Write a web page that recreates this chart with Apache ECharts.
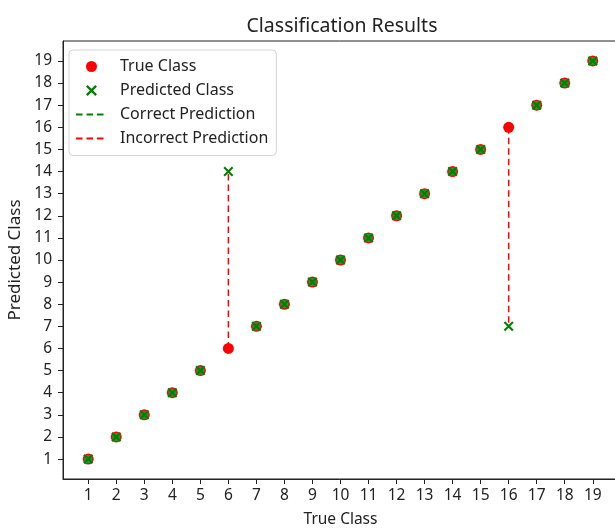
<!DOCTYPE html>
<html>
<head>
<meta charset="utf-8">
<script src="https://cdn.jsdelivr.net/npm/echarts@6/dist/echarts.min.js"></script>
<style>
html, body { margin: 0; padding: 0; background: #fff; }
#chart { width: 615px; height: 528px; }
</style>
</head>
<body>
<div id="chart"></div>
<script>
let chart = echarts.init(document.getElementById("chart"));

const classes = [1, 2, 3, 4, 5, 6, 7, 8, 9, 10, 11, 12, 13, 14, 15, 16, 17, 18, 19];
const trueClass = [1, 2, 3, 4, 5, 6, 7, 8, 9, 10, 11, 12, 13, 14, 15, 16, 17, 18, 19];
const predictedClass = [1, 2, 3, 4, 5, 14, 7, 8, 9, 10, 11, 12, 13, 14, 15, 7, 17, 18, 19];
const tickValues = [1, 2, 3, 4, 5, 6, 7, 8, 9, 10, 11, 12, 13, 14, 15, 16, 17, 18, 19];

const FONT = "Noto Sans";
const X_PATH = "path://M0,1.5L1.5,0L5,3.5L8.5,0L10,1.5L6.5,5L10,8.5L8.5,10L5,6.5L1.5,10L0,8.5L3.5,5Z";
const DASH = [6.5, 4];

let truePts = [];
let predPts = [];
let correctPts = [];
let series = [];

classes.forEach((c, i) => {
    truePts.push([c, trueClass[i]]);
    predPts.push([c, predictedClass[i]]);
    if (trueClass[i] === predictedClass[i]) {
        correctPts.push([c, trueClass[i]]);
    } else {
        // red dashed line from true to predicted
        series.push({
            name: "Incorrect Prediction",
            type: "line",
            data: [[c, trueClass[i]], [c, predictedClass[i]]],
            symbol: "none",
            lineStyle: { color: "#ff0000", width: 1.5, type: DASH },
            itemStyle: { color: "transparent", borderWidth: 0 },
            z: 1,
        });
    }
});

series.push({
    name: "Correct Prediction",
    type: "line",
    data: [],
    symbol: "none",
    lineStyle: { color: "#008000", width: 1.5, type: DASH },
    itemStyle: { color: "transparent", borderWidth: 0 },
});

series.push({
    name: "True Class",
    type: "scatter",
    data: truePts,
    symbol: "circle",
    symbolSize: 11,
    itemStyle: { color: "#ff0000", opacity: 1 },
    z: 2,
});

// zero length green lines show as a green block under the x
series.push({
    name: "correct-mark",
    type: "scatter",
    data: correctPts,
    symbol: "rect",
    symbolSize: 8,
    itemStyle: { color: "#2f8f2f", opacity: 1 },
    z: 3,
});

series.push({
    name: "Predicted Class",
    type: "scatter",
    data: predPts,
    symbol: X_PATH,
    symbolKeepAspect: true,
    symbolSize: 10,
    itemStyle: { color: "#008000", opacity: 1 },
    z: 4,
});

let axisCommon = {
    type: "value",
    min: 0.1,
    max: 19.9,
    splitLine: { show: false },
    axisLine: { show: true, lineStyle: { color: "#222", width: 1 } },
    axisTick: {
        show: true,
        customValues: tickValues,
        length: 5,
        lineStyle: { color: "#222", width: 1 },
    },
    nameLocation: "middle",
};

let options = {
    backgroundColor: "#fff",
    animation: false,
    title: {
        text: "Classification Results",
        left: 337,
        top: 11,
        textAlign: "center",
        textStyle: { color: "#222", fontSize: 19.5, fontWeight: "normal", fontFamily: FONT },
    },
    legend: {
        data: ["True Class", "Predicted Class", "Correct Prediction", "Incorrect Prediction"],
        orient: "vertical",
        left: 69,
        top: 50,
        padding: [8.5, 8, 9, 6],
        itemGap: 8,
        itemWidth: 31,
        itemHeight: 11,
        borderColor: "#d4d4d4",
        borderWidth: 1,
        borderRadius: 4,
        backgroundColor: "rgba(255,255,255,0.85)",
        textStyle: { color: "#222", fontSize: 16, fontFamily: FONT, padding: [0, 0, 0, 8] },
    },
    grid: {
        left: 63,
        top: 41,
        width: 555,
        height: 438,
        outerBoundsMode: "none",
        show: true,
        borderColor: "#222",
        borderWidth: 1,
        backgroundColor: "transparent",
    },
    xAxis: Object.assign({}, axisCommon, {
        name: "True Class",
        nameGap: 33,
        nameTextStyle: { color: "#222", fontSize: 15.5, fontFamily: FONT },
        axisLabel: {
            customValues: tickValues,
            color: "#222",
            fontSize: 15.5,
            fontFamily: FONT,
            margin: 9,
        },
    }),
    yAxis: Object.assign({}, axisCommon, {
        name: "Predicted Class",
        nameGap: 37,
        nameTextStyle: { color: "#222", fontSize: 17, fontFamily: FONT },
        axisLabel: {
            customValues: tickValues,
            color: "#222",
            fontSize: 15.5,
            fontFamily: FONT,
            margin: 11,
        },
    }),
    series: series,
};
chart.setOption(options);
</script>
</body>
</html>
